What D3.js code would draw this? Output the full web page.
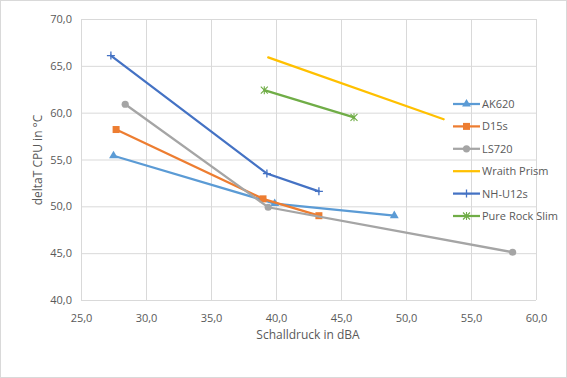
<!DOCTYPE html>
<html><head><meta charset="utf-8">
<script src="https://cdn.jsdelivr.net/npm/d3@7"></script>
<style>body{margin:0;background:#fff}svg{display:block}text{font-family:"Open Sans","Noto Sans",sans-serif;fill:#595959}</style>
</head><body><svg id="c" width="567" height="378"></svg>
<script>
const seriesNames = ["AK620","D15s","LS720","Wraith Prism","NH-U12s","Pure Rock Slim"];
const seriesColors = ["#5B9BD5","#ED7D31","#A5A5A5","#FFC000","#4472C4","#70AD47"];
const seriesMarkers = ["triangle","square","circle","none","plus","star"];
const xAK620 = [27.5, 39.9, 49.1];   const yAK620 = [55.4, 50.3, 49.0];
const xD15s = [27.7, 39.0, 43.3];    const yD15s = [58.2, 50.8, 49.0];
const xLS720 = [28.4, 39.4, 58.2];   const yLS720 = [60.9, 49.9, 45.1];
const xWraith = [39.4, 52.9];        const yWraith = [65.9, 59.3];
const xNH = [27.3, 39.3, 43.3];      const yNH = [66.1, 53.5, 51.6];
const xPRS = [39.1, 46.0];           const yPRS = [62.4, 59.5];
const xTicks = [25,30,35,40,45,50,55,60];
const yTicks = [40,45,50,55,60,65,70];
const xTitle = "Schalldruck in dBA";
const yTitle = "deltaT CPU in °C";

const xs=[xAK620,xD15s,xLS720,xWraith,xNH,xPRS];
const ys=[yAK620,yD15s,yLS720,yWraith,yNH,yPRS];
const svg=d3.select("#c");
svg.append("rect").attr("x",0.5).attr("y",0.5).attr("width",566).attr("height",377).attr("fill","#fff").attr("stroke","#d9d9d9");
const x=d3.scaleLinear().domain([25,60]).range([81,536]);
const y=d3.scaleLinear().domain([40,70]).range([300,19]);
const fmt=d=>d3.format(".1f")(d).replace(".",",");
// grid
svg.append("g").selectAll("line").data(yTicks).join("line")
  .attr("x1",81).attr("x2",536).attr("y1",d=>y(d)+0.5).attr("y2",d=>y(d)+0.5).attr("stroke","#d9d9d9");
svg.append("g").selectAll("line").data(xTicks).join("line")
  .attr("y1",19).attr("y2",300).attr("x1",d=>x(d)+0.5).attr("x2",d=>x(d)+0.5).attr("stroke","#d9d9d9");
// axes labels
const ax=svg.append("g").attr("transform","translate(0,300)").call(d3.axisBottom(x).tickValues(xTicks).tickFormat(fmt).tickSize(0).tickPadding(14));
ax.select(".domain").remove();
ax.selectAll("text").style("font-size","11px").attr("fill","#595959");
const ay=svg.append("g").attr("transform","translate(81,0)").call(d3.axisLeft(y).tickValues(yTicks).tickFormat(fmt).tickSize(0).tickPadding(9));
ay.select(".domain").remove();
ay.selectAll("text").style("font-size","11px").attr("fill","#595959");
svg.append("text").attr("x",308).attr("y",339).attr("text-anchor","middle").style("font-size","12px").text(xTitle);
svg.append("text").attr("transform","translate(42,160) rotate(-90)").attr("text-anchor","middle").style("font-size","12px").text(yTitle);

function marker(g,type,color,cx,cy){
  if(type==="triangle") g.append("path").attr("d",d3.symbol(d3.symbolTriangle,34)()).attr("transform",`translate(${cx},${cy})`).attr("fill",color);
  else if(type==="square") g.append("rect").attr("x",cx-3.5).attr("y",cy-3.5).attr("width",7).attr("height",7).attr("fill",color);
  else if(type==="circle") g.append("circle").attr("cx",cx).attr("cy",cy).attr("r",3.6).attr("fill",color);
  else if(type==="plus") g.append("path").attr("d",`M${cx-4},${cy}H${cx+4}M${cx},${cy-4}V${cy+4}`).attr("stroke",color).attr("stroke-width",1.3).attr("fill","none");
  else if(type==="star") g.append("path").attr("d",`M${cx-3.5},${cy-3.5}L${cx+3.5},${cy+3.5}M${cx-3.5},${cy+3.5}L${cx+3.5},${cy-3.5}M${cx},${cy-4}V${cy+4}`).attr("stroke",color).attr("stroke-width",1.1).attr("fill","none");
}
const line=d3.line().x(d=>x(d[0])).y(d=>y(d[1]));
seriesNames.forEach((n,i)=>{
  const pts=xs[i].map((v,j)=>[v,ys[i][j]]);
  const g=svg.append("g");
  g.append("path").attr("d",line(pts)).attr("fill","none").attr("stroke",seriesColors[i]).attr("stroke-width",2.25).attr("stroke-linecap","round");
  pts.forEach(p=>marker(g,seriesMarkers[i],seriesColors[i],x(p[0]),y(p[1])));
});
// legend
seriesNames.forEach((n,i)=>{
  const ly=104+i*22.4;
  const g=svg.append("g");
  g.append("line").attr("x1",453).attr("x2",480).attr("y1",ly).attr("y2",ly).attr("stroke",seriesColors[i]).attr("stroke-width",2.25);
  marker(g,seriesMarkers[i],seriesColors[i],466.5,ly);
  g.append("text").attr("x",482).attr("y",ly+4).style("font-size","11px").text(n);
});
</script></body></html>
